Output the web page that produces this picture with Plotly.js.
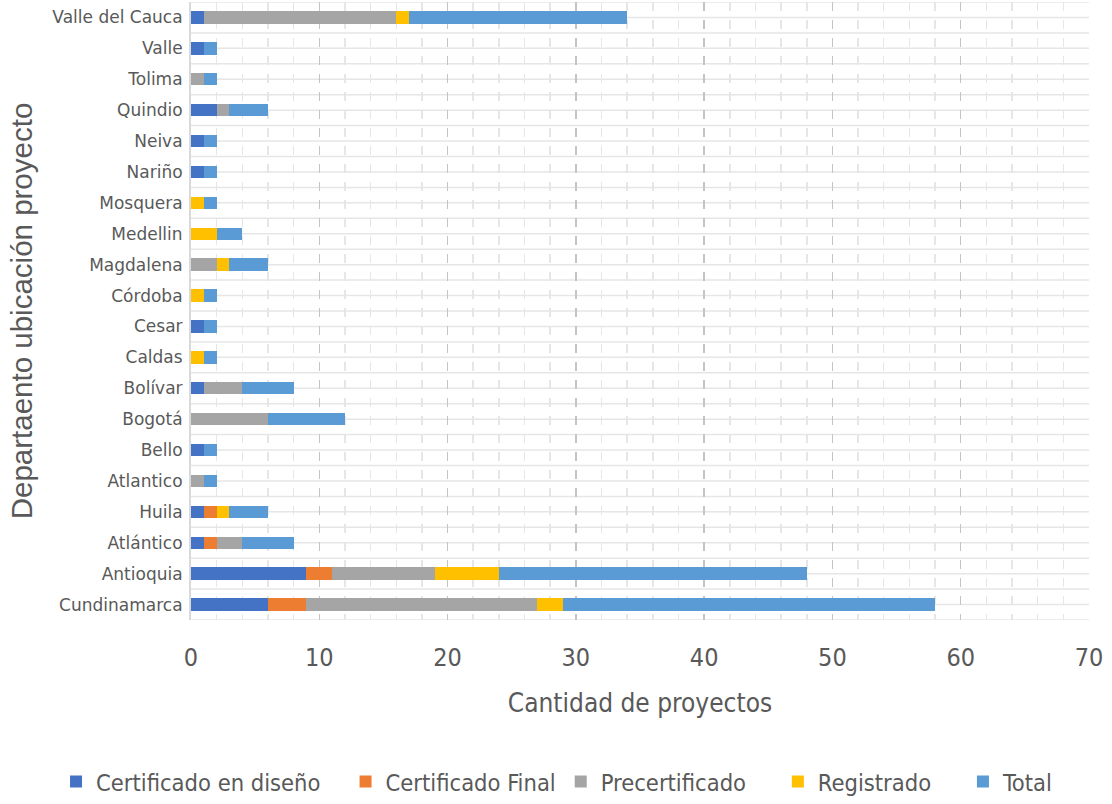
<!DOCTYPE html>
<html>
<head>
<meta charset="utf-8">
<script src="https://cdn.plot.ly/plotly-3.0.1.min.js"></script>
<style>
  html, body { margin: 0; padding: 0; background: #ffffff; }
  #chart { width: 1112px; height: 804px; }
</style>
</head>
<body>
<div id="chart"></div>
<script>
// Projects per department, stacked by certification status (bottom to top)
const departamentos = [
  "Cundinamarca", "Antioquia", "Atlántico", "Huila", "Atlantico", "Bello",
  "Bogotá", "Bolívar", "Caldas", "Cesar", "Córdoba", "Magdalena", "Medellin",
  "Mosquera", "Nariño", "Neiva", "Quindio", "Tolima", "Valle", "Valle del Cauca"
];
const certificadoDiseno = [6, 9, 1, 1, 0, 1, 0, 1, 0, 1, 0, 0, 0, 0, 1, 1, 2, 0, 1, 1];
const certificadoFinal  = [3, 2, 1, 1, 0, 0, 0, 0, 0, 0, 0, 0, 0, 0, 0, 0, 0, 0, 0, 0];
const precertificado    = [18, 8, 2, 0, 1, 0, 6, 3, 0, 0, 0, 2, 0, 0, 0, 0, 1, 1, 0, 15];
const registrado        = [2, 5, 0, 1, 0, 0, 0, 0, 1, 0, 1, 1, 2, 1, 0, 0, 0, 0, 0, 1];
const total             = [29, 24, 4, 3, 1, 1, 6, 4, 1, 1, 1, 3, 2, 1, 1, 1, 3, 1, 1, 17];

const seriesNames  = ["Certificado en diseño", "Certificado Final", "Precertificado", "Registrado", "Total"];
const seriesValues = [certificadoDiseno, certificadoFinal, precertificado, registrado, total];
const seriesColors = ["#4472C4", "#ED7D31", "#A5A5A5", "#FFC000", "#5B9BD5"];

const xTickValues = [0, 10, 20, 30, 40, 50, 60, 70];

const textGray = "#595959";
const narrowFont = "DejaVu Sans Condensed, Liberation Sans Narrow, sans-serif";

// extra trailing space after each legend entry (in non-breaking spaces)
const legendPad = [3, 0, 4, 4, 0];

const traces = seriesNames.map((name, i) => ({
  type: "bar",
  orientation: "h",
  name: name + "\u00a0".repeat(legendPad[i]),
  y: departamentos,
  x: seriesValues[i],
  marker: { color: seriesColors[i], line: { width: 0 } },
  hovertemplate: "%{y}: %{x}<extra>" + name + "</extra>"
}));

// light horizontal rules between and through the category rows
const rowLines = [];
for (let k = -0.5; k <= departamentos.length - 0.5 + 1e-9; k += 0.5) {
  rowLines.push({
    type: "line", xref: "paper", yref: "y",
    x0: 0, x1: 1, y0: k, y1: k,
    line: { color: "#e6e6e6", width: 1.5 },
    layer: "below"
  });
}

const layout = {
  width: 1112,
  height: 804,
  paper_bgcolor: "#ffffff",
  plot_bgcolor: "#ffffff",
  margin: { l: 191, r: 23, t: 2, b: 183 },
  barmode: "stack",
  bargap: 0.6,
  showlegend: true,
  shapes: rowLines,
  xaxis: {
    range: [0, 70],
    tickmode: "array",
    tickvals: xTickValues,
    ticktext: xTickValues.map(String),
    ticks: "outside",
    ticklen: 15,
    tickcolor: "rgba(0,0,0,0)",
    tickfont: { family: narrowFont, size: 25, color: textGray },
    showgrid: true,
    gridcolor: "#c4c4c4",
    gridwidth: 1.5,
    griddash: "dash",
    minor: { dtick: 2, showgrid: true, gridcolor: "#e6e6e6", gridwidth: 1.5 },
    zeroline: false,
    showline: false,
    fixedrange: true,
    automargin: false,
    title: {
      text: "Cantidad de proyectos",
      font: { family: narrowFont, size: 26, color: textGray },
      standoff: 22
    }
  },
  yaxis: {
    type: "category",
    categoryorder: "array",
    categoryarray: departamentos,
    range: [-0.5, departamentos.length - 0.5],
    ticks: "outside",
    ticklen: 3,
    tickcolor: "rgba(0,0,0,0)",
    tickfont: { family: "DejaVu Sans, sans-serif", size: 17, color: textGray },
    showgrid: false,
    zeroline: false,
    showline: true,
    linecolor: "#d9d9d9",
    linewidth: 2,
    fixedrange: true,
    automargin: false,
    title: {
      text: "Departaento ubicación proyecto",
      font: { family: "Liberation Sans, Arial, sans-serif", size: 29.5, color: textGray },
      standoff: 11
    }
  },
  legend: {
    orientation: "h",
    x: -0.1503,
    xanchor: "left",
    y: -0.295,
    yanchor: "bottom",
    font: { family: narrowFont, size: 23.5, color: textGray },
    traceorder: "normal",
    itemclick: false,
    itemdoubleclick: false
  }
};

Plotly.newPlot("chart", traces, layout, { displayModeBar: false, staticPlot: true });
</script>
</body>
</html>
